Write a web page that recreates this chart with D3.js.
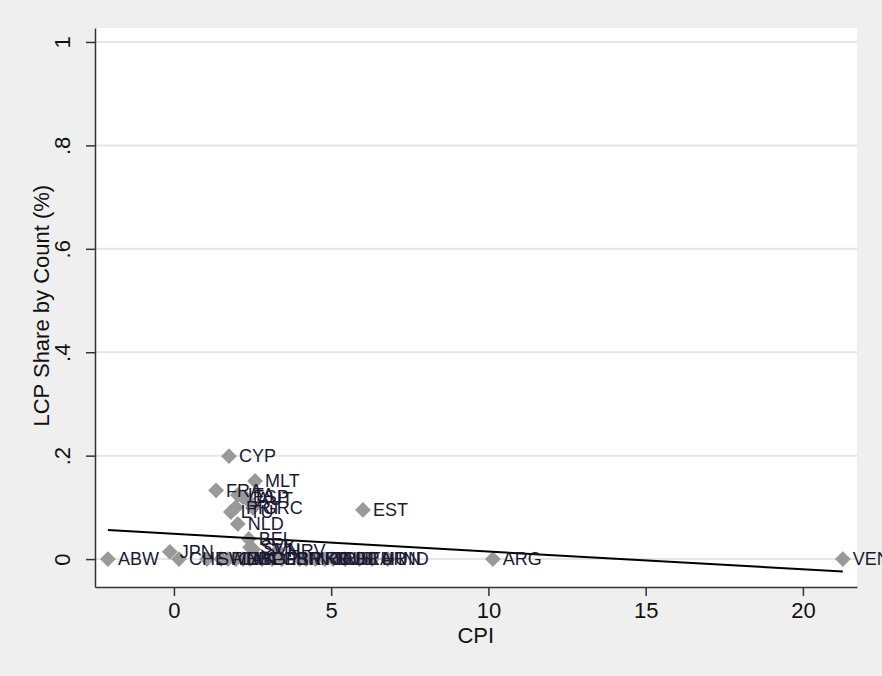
<!DOCTYPE html>
<html>
<head>
<meta charset="utf-8">
<script src="https://cdn.jsdelivr.net/npm/d3@7"></script>
<style>
  html, body { margin: 0; padding: 0; background: #efefef; }
  svg { display: block; font-family: 'Liberation Sans', Arial, sans-serif; }
</style>
</head>
<body>
<svg id="chart" width="882" height="676"></svg>
<script>
// country labels, CPI and LCP share
const countries = ['CYP', 'MLT', 'FRA', 'ITA', 'ESP', 'AUT', 'LTU', 'PRT', 'GRC', 'NLD', 'EST',
  'BEL', 'SVK', 'SVN', 'HRV', 'JPN', 'ABW', 'CHE', 'SWE', 'FIN', 'CAN', 'LVA', 'IRL', 'SGP',
  'PER', 'GBR', 'ISR', 'MKD', 'NOR', 'ROU', 'RUS', 'CHL', 'BRA', 'TUR', 'HUN', 'IND', 'ARG', 'VEN']
const cpi = [1.75, 2.58, 1.34, 2.03, 2.19, 2.32, 1.81, 1.97, 2.51, 2.03, 6.01,
  2.38, 2.42, 2.52, 3.3, -0.13, -2.1, 0.16, 1.05, 1.5, 1.72, 1.97, 2.2, 2.42,
  2.8, 3.12, 3.43, 4.0, 4.2, 4.5, 4.8, 5.06, 5.44, 5.9, 6.3, 6.8, 10.14, 21.27]
const lcpShare = [0.199, 0.151, 0.133, 0.124, 0.12, 0.116, 0.091, 0.1, 0.099, 0.068, 0.095,
  0.039, 0.023, 0.019, 0.017, 0.014, 0, 0, 0, 0, 0, 0, 0, 0,
  0, 0, 0, 0, 0, 0, 0, 0, 0, 0, 0, 0, 0, 0]

// fitted line endpoints
const fitX = [-2.1, 21.27]
const fitY = [0.056, -0.024]

const xTicks = [0, 5, 10, 15, 20]
const yTicks = [0, 0.2, 0.4, 0.6, 0.8, 1]
const yTickLabels = ['0', '.2', '.4', '.6', '.8', '1']

let margin = {top: 28, right: 25, bottom: 89, left: 95}
let svg = d3.select('#chart')
let width = +svg.attr('width') - margin.left - margin.right
let height = +svg.attr('height') - margin.top - margin.bottom

let x = d3.scaleLinear().domain([-2.51, 21.72]).range([0, width])
let y = d3.scaleLinear().domain([-0.054, 1.027]).range([height, 0])

let g = svg.append('g')
  .attr('transform', 'translate(' + margin.left + ',' + margin.top + ')')

// plot area
g.append('rect')
  .attr('width', width)
  .attr('height', height)
  .attr('fill', '#fff')

// сетка
g.selectAll('.grid')
  .data(yTicks)
  .enter()
  .append('line')
  .attr('class', 'grid')
  .attr('x1', 0)
  .attr('x2', width)
  .attr('y1', d => y(d))
  .attr('y2', d => y(d))
  .attr('stroke', '#e6e6e6')
  .attr('stroke-width', 2)

// ось x
let gX = g.append('g')
  .attr('transform', 'translate(0,' + height + ')')
  .call(d3.axisBottom(x).tickValues(xTicks).tickSize(9).tickSizeOuter(0).tickPadding(6))
gX.select('.domain').attr('stroke', '#333').attr('stroke-width', 1.5)
gX.selectAll('.tick line').attr('stroke', '#333').attr('stroke-width', 1.5)
gX.selectAll('.tick text').attr('font-size', 22).attr('fill', '#111')
  .attr('font-family', "'Liberation Sans', Arial, sans-serif")

// ось y
let gY = g.append('g')
  .call(d3.axisLeft(y).tickValues(yTicks).tickSize(9).tickSizeOuter(0)
    .tickFormat((d, i) => yTickLabels[i]))
gY.select('.domain').attr('stroke', '#333').attr('stroke-width', 1.5)
gY.selectAll('.tick line').attr('stroke', '#333').attr('stroke-width', 1.5)
gY.selectAll('.tick text')
  .attr('font-size', 22).attr('fill', '#111')
  .attr('font-family', "'Liberation Sans', Arial, sans-serif")
  .attr('x', null).attr('dy', null)
  .attr('text-anchor', 'middle')
  .attr('transform', 'translate(-25,0) rotate(-90)')

// подписи осей
g.append('text')
  .attr('x', x(9.6))
  .attr('y', height + 56)
  .attr('text-anchor', 'middle')
  .attr('font-size', 22)
  .attr('fill', '#111')
  .text('CPI')

g.append('text')
  .attr('transform', 'translate(-46,' + y(0.49) + ') rotate(-90)')
  .attr('text-anchor', 'middle')
  .attr('font-size', 22)
  .attr('fill', '#111')
  .text('LCP Share by Count (%)')

let data = countries.map((c, i) => ({name: c, cpi: cpi[i], share: lcpShare[i]}))

// точки
g.selectAll('.dot')
  .data(data)
  .enter()
  .append('path')
  .attr('class', 'dot')
  .attr('d', d3.symbol(d3.symbolSquare, 125))
  .attr('transform', d => 'translate(' + x(d.cpi) + ',' + y(d.share) + ') rotate(45)')
  .attr('fill', '#999')

// линия
let line = d3.line()
  .x(d => x(d[0]))
  .y(d => y(d[1]))
g.append('path')
  .datum(fitX.map((v, i) => [v, fitY[i]]))
  .attr('d', line)
  .attr('fill', 'none')
  .attr('stroke', '#000')
  .attr('stroke-width', 2)

// подписи точек
g.selectAll('.lbl')
  .data(data)
  .enter()
  .append('text')
  .attr('class', 'lbl')
  .attr('x', d => x(d.cpi) + 10)
  .attr('y', d => y(d.share))
  .attr('dy', '0.35em')
  .attr('font-size', 18)
  .attr('fill', '#1a1a33')
  .text(d => d.name)
</script>
</body>
</html>
